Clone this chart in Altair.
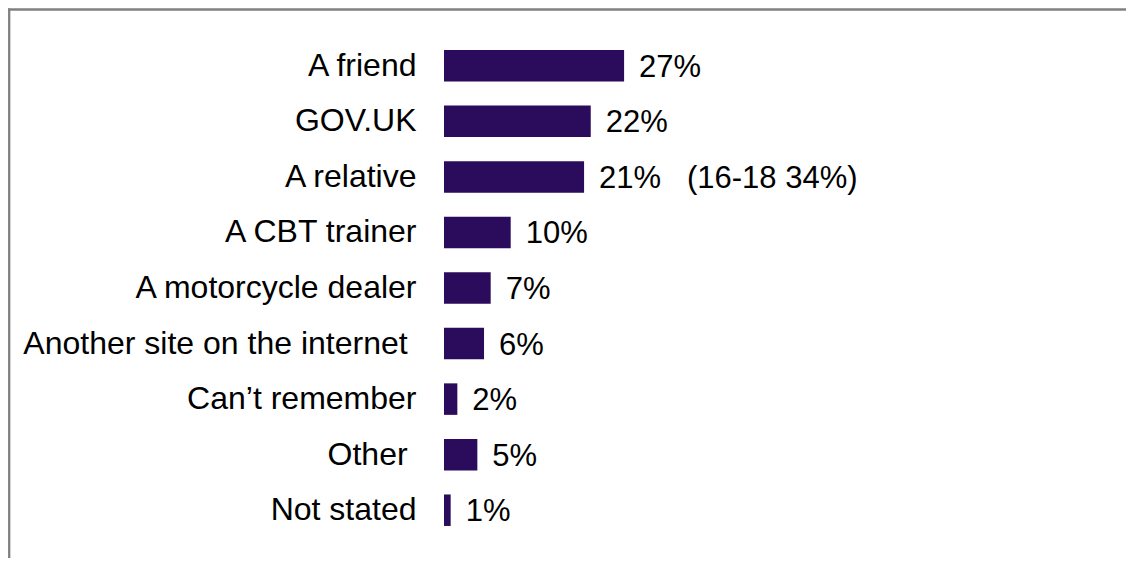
import altair as alt
import pandas as pd

categories = [
    "A friend",
    "GOV.UK",
    "A relative",
    "A CBT trainer",
    "A motorcycle dealer",
    "Another site on the internet\u00a0\u2060",
    "Can\u2019t remember",
    "Other\u00a0\u2060",
    "Not stated",
]
values = [27, 22, 21, 10, 7, 6, 2, 5, 1]
value_labels = [
    "27%",
    "22%",
    "21%\u00a0\u00a0\u00a0(16-18 34%)",
    "10%",
    "7%",
    "6%",
    "2%",
    "5%",
    "1%",
]

df = pd.DataFrame({"category": categories, "value": values, "label": value_labels})

FONT = "Liberation Sans"
BAR = "#2A0B5C"
PLOT_W = 667
PLOT_H = 500

y_enc = alt.Y(
    "category:N",
    sort=categories,
    scale=alt.Scale(paddingInner=0, paddingOuter=0),
    axis=alt.Axis(
        title=None,
        domain=False,
        ticks=False,
        labelFont=FONT,
        labelFontSize=32,
        labelColor="#000000",
        labelPadding=28,
        labelLimit=600,
        labelBaseline="middle",
    ),
)
x_enc = alt.X(
    "value:Q",
    scale=alt.Scale(domain=[0, 100], nice=False, zero=True),
    axis=None,
)

base = alt.Chart(df)
bars = base.mark_bar(color=BAR, size=31.5).encode(x=x_enc, y=y_enc)
texts = base.mark_text(
    align="left", baseline="middle", dx=15, dy=2, font=FONT, fontSize=31, color="#000000"
).encode(x=x_enc, y=y_enc, text="label:N")

frame = pd.DataFrame({"a": [0]})
top_rule = alt.Chart(frame).mark_rule(color="#808080", strokeWidth=2.3).encode(
    x=alt.value(-436), x2=alt.value(682), y=alt.value(-28.5)
)
left_rule = alt.Chart(frame).mark_rule(color="#808080", strokeWidth=2.3).encode(
    x=alt.value(-434.8), y=alt.value(-29.6), y2=alt.value(520)
)

chart = (
    alt.layer(bars, texts, top_rule, left_rule)
    .properties(
        width=PLOT_W,
        height=PLOT_H,
        background="#ffffff",
        autosize=alt.AutoSizeParams(type="none"),
        padding={"left": 436, "top": 30, "right": 15, "bottom": 20},
    )
    .configure_view(stroke="transparent", strokeWidth=0)
)

chart.save("out.html", embed_options={"renderer": "svg", "actions": False})
